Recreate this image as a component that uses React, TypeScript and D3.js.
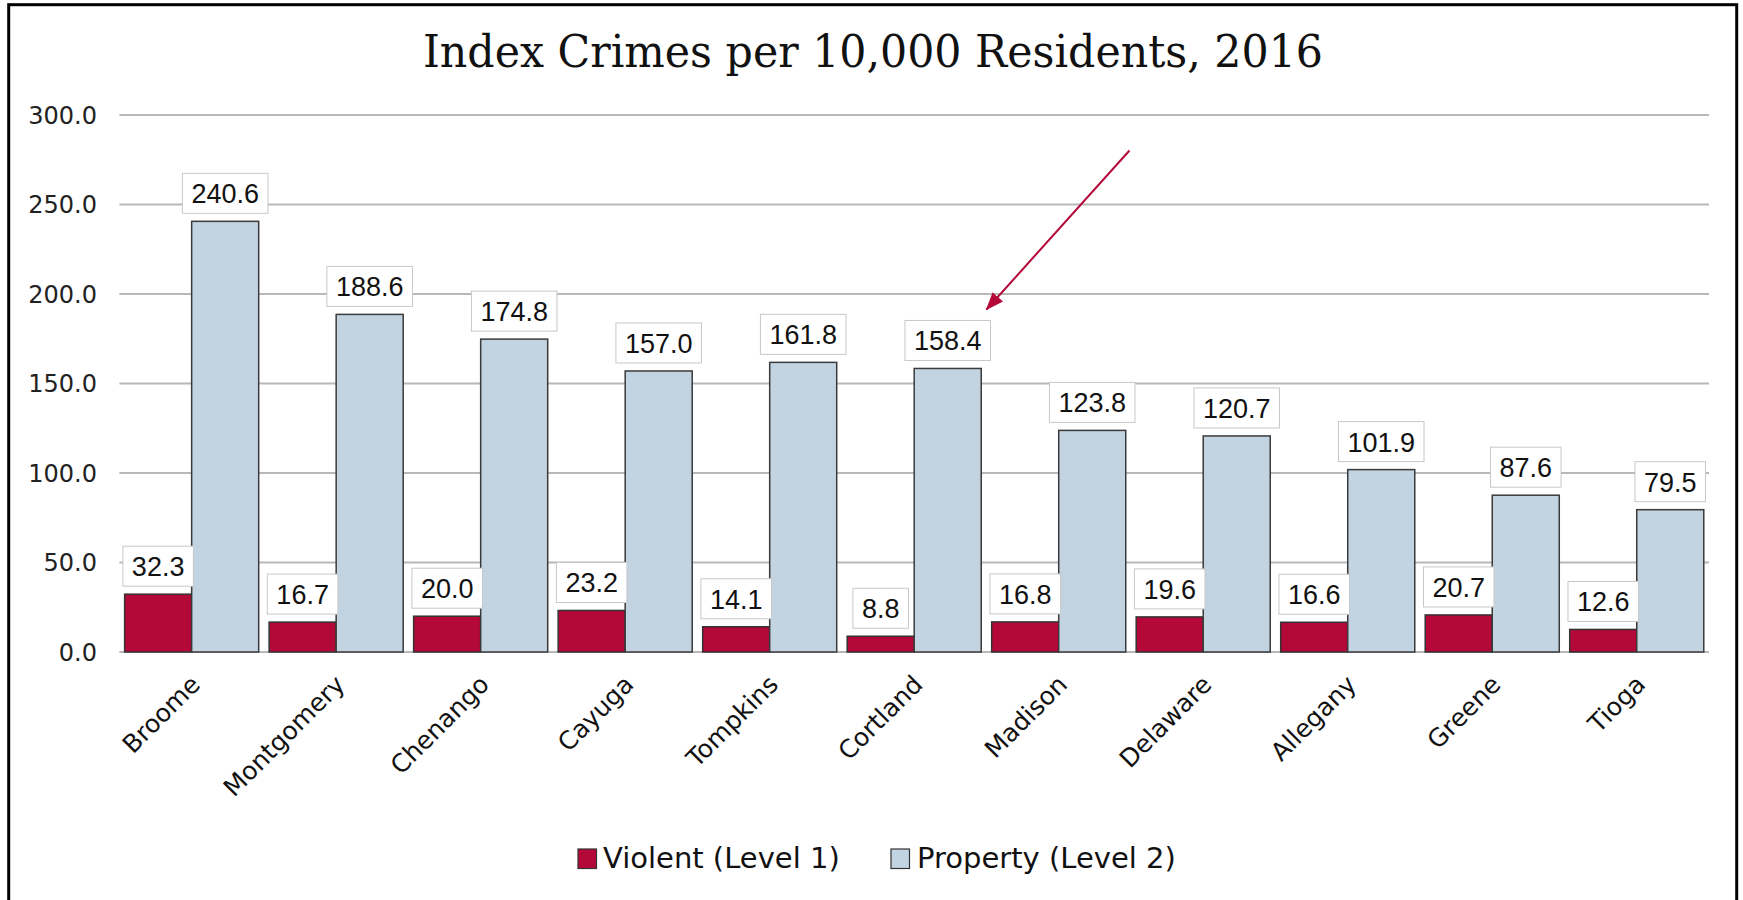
import React from "react";
import * as d3 from "d3";

const categories = ["Broome", "Montgomery", "Chenango", "Cayuga", "Tompkins", "Cortland", "Madison", "Delaware", "Allegany", "Greene", "Tioga"];
const violent = [32.3, 16.7, 20.0, 23.2, 14.1, 8.8, 16.8, 19.6, 16.6, 20.7, 12.6];
const property = [240.6, 188.6, 174.8, 157.0, 161.8, 158.4, 123.8, 120.7, 101.9, 87.6, 79.5];
const yTicks = [0, 50, 100, 150, 200, 250, 300];
const seriesNames = ["Violent (Level 1)", "Property (Level 2)"];
const title = "Index Crimes per 10,000 Residents, 2016";
const highlighted = "Cortland";

const W = 1743;
const H = 900;
const RED = "#b30838";
const BLUE = "#c2d3e1";
const SANS = "'DejaVu Sans', Verdana, sans-serif";
const LABEL_FONT = "'Liberation Sans', Arial, sans-serif";
const LABEL_FS = 27;

function labelWidth(s: string) {
  let w = 0;
  for (const ch of s) w += ch === "." ? 0.278 : 0.556;
  return w * LABEL_FS;
}

export default function App() {
  const x = d3.scaleBand<string>().domain(categories).range([119.4, 1709]).padding(0);
  const y = d3.scaleLinear().domain([0, 300]).range([652, 115]);
  const bw = x.bandwidth();
  const inner = d3.scaleBand<string>().domain(["v", "p"]).range([0, bw]).paddingInner(0).paddingOuter(0.078);
  const ib = inner.bandwidth();

  const labelBox = (cx: number, v: number, key: string) => {
    const txt = d3.format(".1f")(v);
    const tw = labelWidth(txt);
    const bwid = tw + 18;
    const bh = 40;
    const bottom = y(v) - 8;
    return (
      <g key={key}>
        <rect x={cx - bwid / 2} y={bottom - bh} width={bwid} height={bh} fill="#fff" stroke="#c8c8c8" strokeWidth={1} />
        <text x={cx} y={bottom - bh / 2 + 10} textAnchor="middle" fontFamily={LABEL_FONT} fontSize={LABEL_FS} fill="#111">{txt}</text>
      </g>
    );
  };

  // arrow target: the highlighted category's property label box
  const hi = categories.indexOf(highlighted);
  const hcx = (x(highlighted) as number) + (inner("p") as number) + ib / 2;
  const hw = labelWidth(d3.format(".1f")(property[hi])) + 18;
  const tipX = hcx + hw / 2 - 4;
  const tipY = y(property[hi]) - 8 - 40 - 11;
  const startX = tipX + 143;
  const startY = tipY - 159;

  return (
    <svg width={W} height={H} style={{ position: "absolute", left: 0, top: 0, background: "#fff" }}>
      <defs>
        <marker id="ah" viewBox="0 0 18 14" refX="17" refY="7" markerWidth="18" markerHeight="14" orient="auto" markerUnits="userSpaceOnUse">
          <path d="M0,0 L18,7 L0,14 z" fill={RED} />
        </marker>
      </defs>
      <rect x={0} y={0} width={W} height={H} fill="#fff" />
      <rect x={8.7} y={4.7} width={1728} height={H + 10} fill="none" stroke="#000" strokeWidth={3} />

      <text x={873} y={66.5} textAnchor="middle" fontFamily="'DejaVu Serif', serif" fontSize={44} textLength={900} lengthAdjust="spacingAndGlyphs" fill="#111">{title}</text>

      {yTicks.map((t) => (
        <g key={t}>
          <line x1={119.4} x2={1709} y1={y(t)} y2={y(t)} stroke="#b8b8b8" strokeWidth={1.8} />
          <text x={97} y={y(t) + 8.5} textAnchor="end" fontFamily={SANS} fontSize={24} fill="#222">{d3.format(".1f")(t)}</text>
        </g>
      ))}

      {categories.map((c, i) => {
        const x0 = x(c) as number;
        return (
          <g key={c}>
            <rect x={x0 + (inner("v") as number)} y={y(violent[i])} width={ib} height={y(0) - y(violent[i])} fill={RED} stroke="#333" strokeWidth={1.5} />
            <rect x={x0 + (inner("p") as number)} y={y(property[i])} width={ib} height={y(0) - y(property[i])} fill={BLUE} stroke="#3a3a3a" strokeWidth={1.5} />
          </g>
        );
      })}

      {categories.map((c, i) => {
        const x0 = x(c) as number;
        return (
          <g key={c + "l"}>
            {labelBox(x0 + (inner("v") as number) + ib / 2, violent[i], c + "v")}
            {labelBox(x0 + (inner("p") as number) + ib / 2, property[i], c + "p")}
          </g>
        );
      })}

      {categories.map((c) => {
        const cx = (x(c) as number) + bw / 2;
        return (
          <text key={c + "t"} transform={`translate(${cx + 10},${686}) rotate(-45)`} textAnchor="end" fontFamily={SANS} fontSize={25} fill="#111">{c}</text>
        );
      })}

      <line x1={startX} y1={startY} x2={tipX} y2={tipY} stroke={RED} strokeWidth={2} markerEnd="url(#ah)" />

      <g>
        <rect x={578} y={849} width={18.5} height={19.5} fill={RED} stroke="#333" strokeWidth={1.2} />
        <text x={603} y={868} fontFamily={SANS} fontSize={29} fill="#111">{seriesNames[0]}</text>
        <rect x={891} y={849} width={18.5} height={19.5} fill={BLUE} stroke="#333" strokeWidth={1.2} />
        <text x={917} y={868} fontFamily={SANS} fontSize={29} fill="#111">{seriesNames[1]}</text>
      </g>
    </svg>
  );
}
